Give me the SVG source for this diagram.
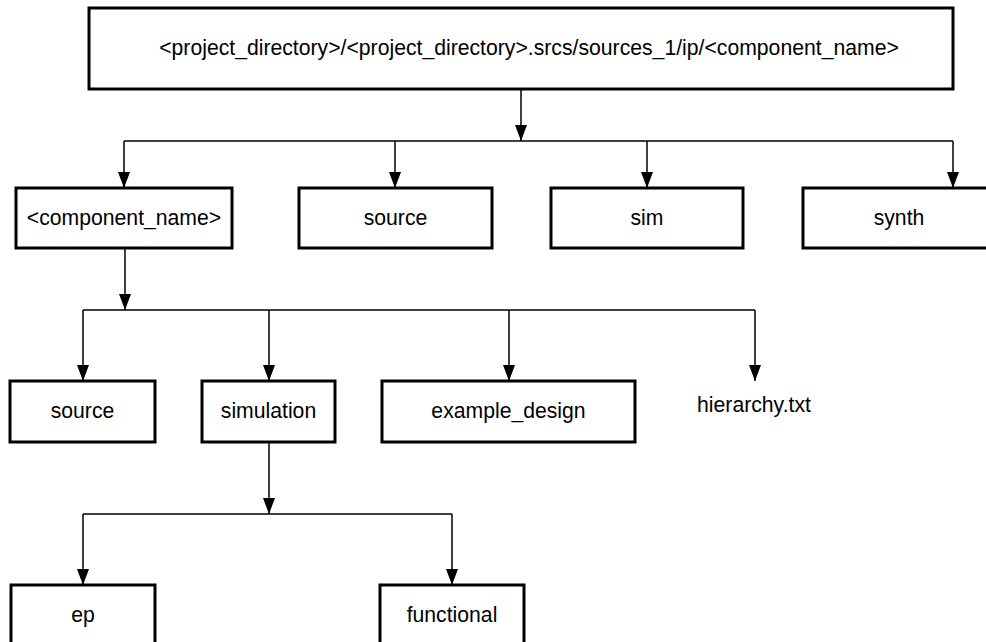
<svg xmlns="http://www.w3.org/2000/svg" width="986" height="642" viewBox="0 0 986 642">
<style>
.box{fill:#fff;stroke:#000;stroke-width:3}
.lbl{font-family:"Liberation Sans",Arial,sans-serif;font-size:21.2px;fill:#000;text-anchor:middle}
.con{fill:none;stroke:#000;stroke-width:1.5}
.arr{marker-end:url(#ah)}
</style>
<defs>
<marker id="ah" markerUnits="userSpaceOnUse" markerWidth="16" markerHeight="12" viewBox="0 0 16 12" refX="16" refY="6" orient="auto">
<path d="M0,0 L16,6 L0,12 z" fill="#000"/>
</marker>
</defs>
<rect width="986" height="642" fill="#fff"/>
<g id="connectors">
<line class="con arr" x1="521" y1="89" x2="521" y2="141"/>
<polyline class="con" points="124,141 953,141"/>
<line class="con arr" x1="124" y1="141" x2="124" y2="188"/>
<line class="con arr" x1="395" y1="141" x2="395" y2="188"/>
<line class="con arr" x1="647" y1="141" x2="647" y2="188"/>
<line class="con arr" x1="953" y1="141" x2="953" y2="188"/>
<line class="con arr" x1="125" y1="248" x2="125" y2="310"/>
<polyline class="con" points="83,310 755,310"/>
<line class="con arr" x1="83" y1="310" x2="83" y2="381"/>
<line class="con arr" x1="269" y1="310" x2="269" y2="381"/>
<line class="con arr" x1="509" y1="310" x2="509" y2="381"/>
<line class="con arr" x1="755" y1="310" x2="755" y2="381"/>
<line class="con arr" x1="269" y1="442" x2="269" y2="514"/>
<polyline class="con" points="83,514 452,514"/>
<line class="con arr" x1="83" y1="514" x2="83" y2="585"/>
<line class="con arr" x1="452" y1="514" x2="452" y2="585"/>
</g>
<g id="root"><rect class="box" x="89" y="8" width="864" height="81"/><text class="lbl" x="529" y="55">&lt;project_directory&gt;/&lt;project_directory&gt;.srcs/sources_1/ip/&lt;component_name&gt;</text></g>
<g id="component_name"><rect class="box" x="16" y="188" width="216" height="60"/><text class="lbl" x="124" y="225">&lt;component_name&gt;</text></g>
<g id="source1"><rect class="box" x="299" y="188" width="193" height="60"/><text class="lbl" x="395.5" y="225">source</text></g>
<g id="sim"><rect class="box" x="551" y="188" width="192" height="60"/><text class="lbl" x="647" y="225">sim</text></g>
<g id="synth"><rect class="box" x="803" y="188" width="192" height="60"/><text class="lbl" x="899" y="225">synth</text></g>
<g id="source2"><rect class="box" x="10" y="381" width="145" height="61"/><text class="lbl" x="82.5" y="418">source</text></g>
<g id="simulation"><rect class="box" x="202" y="381" width="133" height="61"/><text class="lbl" x="268.5" y="418">simulation</text></g>
<g id="example_design"><rect class="box" x="382" y="381" width="253" height="61"/><text class="lbl" x="508.5" y="418">example_design</text></g>
<g id="hierarchy"><text class="lbl" x="754" y="412">hierarchy.txt</text></g>
<g id="ep"><rect class="box" x="11" y="585" width="144" height="61"/><text class="lbl" x="83" y="622">ep</text></g>
<g id="functional"><rect class="box" x="380" y="585" width="144" height="61"/><text class="lbl" x="452" y="622">functional</text></g>
</svg>
